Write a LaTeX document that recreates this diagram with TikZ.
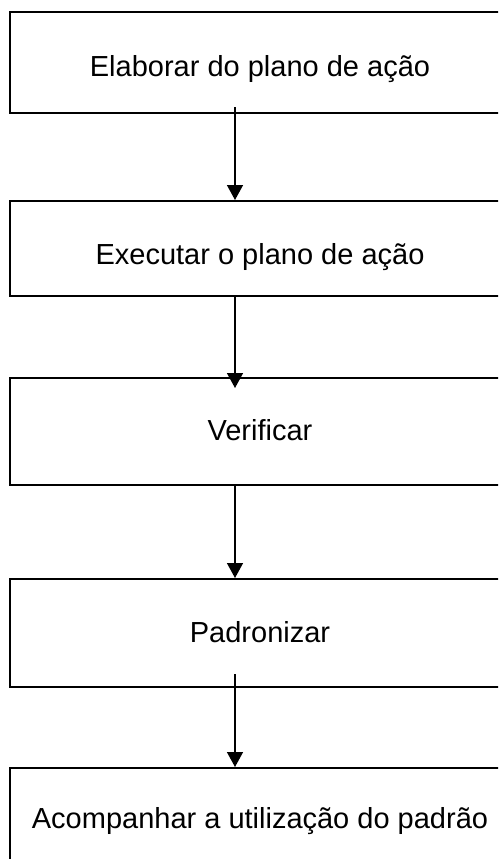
\documentclass[tikz,border=0pt]{standalone}
\usepackage{fontspec}
\setmainfont{Liberation Sans}
\usetikzlibrary{arrows.meta,calc}
\tikzset{
  stepbox/.style={draw=black, line width=2pt, rectangle, minimum width=500pt, inner sep=0pt, text depth=0pt, font=\fontsize{29}{33}\selectfont, text=black},
  flowarrow/.style={draw=black, line width=1.5pt, -{Triangle[width=16pt,length=15pt]}}
}
\begin{document}
\begin{tikzpicture}[x=1pt,y=-1pt]
\useasboundingbox (0,0) rectangle (498,859);
\clip (0,0) rectangle (498,859);
\node[stepbox, minimum height=101pt, text height=27pt] (b1) at (260,62.5) {Elaborar do plano de ação};
\node[stepbox, minimum height=95pt, text height=31pt] (b2) at (260,248.5) {Executar o plano de ação};
\node[stepbox, minimum height=107pt, text height=17pt] (b3) at (260,431.5) {Verificar};
\node[stepbox, minimum height=108pt, text height=18pt] (b4) at (260,633) {Padronizar};
\node[stepbox, minimum height=102pt, text height=18pt] (b5) at (260,819) {Acompanhar a utilização do padrão};
\coordinate (a1s) at (235,107);
\coordinate (a2s) at (b2.south -| a1s);
\coordinate (a2e) at ($(b3.north -| a1s)+(0,11)$);
\coordinate (a3s) at (b3.south -| a1s);
\coordinate (a4s) at (235,674);
\draw[flowarrow] (a1s) -- (a1s |- b2.north);
\draw[flowarrow] (a2s) -- (a2e);
\draw[flowarrow] (a3s) -- (a3s |- b4.north);
\draw[flowarrow] (a4s) -- (a4s |- b5.north);
\end{tikzpicture}
\end{document}
